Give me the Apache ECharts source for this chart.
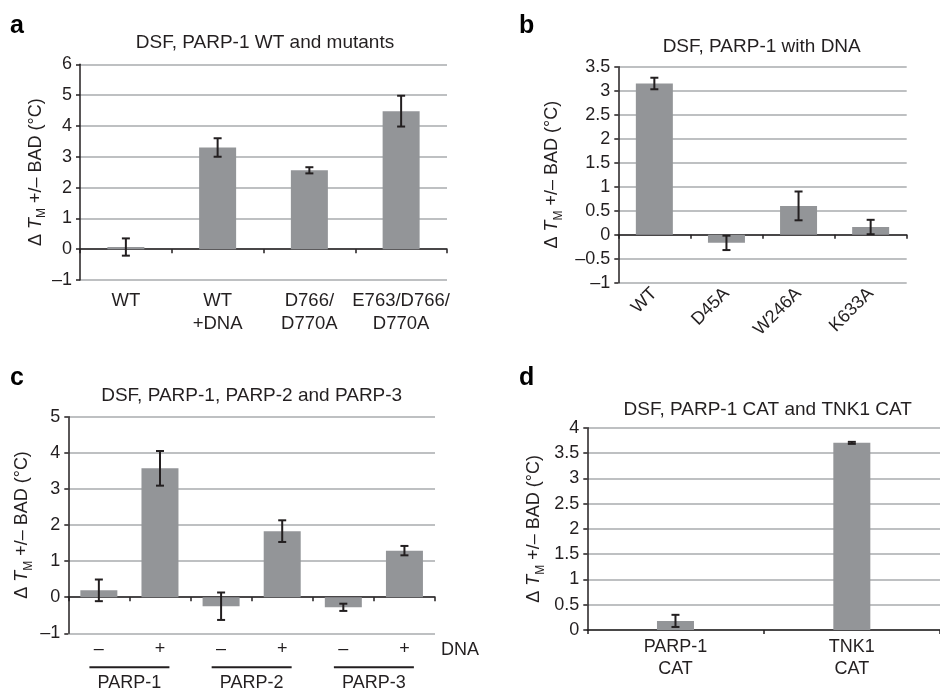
<!DOCTYPE html>
<html>
<head>
<meta charset="utf-8">
<script src="https://cdn.jsdelivr.net/npm/echarts@6/dist/echarts.min.js"></script>
<style>html,body{margin:0;padding:0;background:#fff}#c{width:940px;height:693px}</style>
</head>
<body>
<div id="c"></div>
<script>
// Panel a
const catsA = ['WT', 'WT\n+DNA', 'D766/\nD770A', 'E763/D766/\nD770A'];
const valsA = [0.07, 3.3, 2.56, 4.48];
const errA = [0.28, 0.3, 0.1, 0.5];
// Panel b
const catsB = ['WT', 'D45A', 'W246A', 'K633A'];
const valsB = [3.15, -0.17, 0.6, 0.16];
const errB = [0.12, 0.15, 0.3, 0.15];
// Panel c
const catsC = ['–', '+', '–', '+', '–', '+'];
const groupsC = ['PARP-1', 'PARP-2', 'PARP-3'];
const valsC = [0.19, 3.57, -0.25, 1.83, -0.28, 1.29];
const errC = [0.3, 0.48, 0.38, 0.3, 0.1, 0.13];
// Panel d
const catsD = ['PARP-1\nCAT', 'TNK1\nCAT'];
const valsD = [0.18, 3.7];
const errD = [0.12, 0.02];

const titlesTxt = ['DSF, PARP-1 WT and mutants', 'DSF, PARP-1 with DNA', 'DSF, PARP-1, PARP-2 and PARP-3', 'DSF, PARP-1 CAT and TNK1 CAT'];
const letters = ['a', 'b', 'c', 'd'];

const FONT = '"Liberation Sans", Arial, Helvetica, sans-serif';
const TXT = '#231f20';
const GRIDC = '#a9abae';
const BARC = '#939598';

const chart = echarts.init(document.getElementById('c'), null, {renderer: 'canvas'});

function errItem(params, api) {
  const x = api.value(0), y = api.value(1), e = api.value(2);
  const p1 = api.coord([x, y + e]);
  const p2 = api.coord([x, y - e]);
  const w = 4;
  const style = {stroke: TXT, lineWidth: 2};
  return {type: 'group', children: [
    {type: 'line', shape: {x1: p1[0], y1: p1[1], x2: p2[0], y2: p2[1]}, style},
    {type: 'line', shape: {x1: p1[0] - w, y1: p1[1], x2: p1[0] + w, y2: p1[1]}, style},
    {type: 'line', shape: {x1: p2[0] - w, y1: p2[1], x2: p2[0] + w, y2: p2[1]}, style}
  ]};
}

const yName = '{d|Δ }{t|T}{s|M}{d| +/– BAD (°C)}';
const yNameRich = {
  d: {fontSize: 18, fontFamily: FONT, color: TXT, lineHeight: 24},
  t: {fontSize: 18, fontFamily: FONT, color: TXT, fontStyle: 'italic', lineHeight: 24},
  s: {fontSize: 12, fontFamily: FONT, color: TXT, lineHeight: 13, verticalAlign: 'bottom'}
};

function yAxis(gridIndex, min, max, interval, gap) {
  return {
    type: 'value', gridIndex, min, max, interval,
    name: yName, nameLocation: 'middle', nameGap: gap, nameRotate: 90,
    nameTextStyle: {rich: yNameRich},
    axisLine: {show: true, lineStyle: {color: TXT, width: 1.5}},
    axisTick: {show: true, length: 4, lineStyle: {color: TXT, width: 1.5}},
    axisLabel: {fontSize: 18, fontFamily: FONT, color: TXT, margin: 8,
      formatter: v => String(v).replace('-', '–')},
    splitLine: {show: true, lineStyle: {color: GRIDC, width: 1.5}}
  };
}

function lineAxis(gridIndex, data) {
  return {
    type: 'category', gridIndex, data, position: 'bottom',
    axisLine: {show: true, onZero: true, lineStyle: {color: TXT, width: 1.5}},
    axisTick: {show: true, length: 4, lineStyle: {color: TXT, width: 1.5}},
    axisLabel: {show: false}, splitLine: {show: false}
  };
}
function labelAxis(gridIndex, data, extra) {
  return Object.assign({
    type: 'category', gridIndex, data, position: 'bottom',
    axisLine: {show: false, onZero: false},
    axisTick: {show: false},
    axisLabel: {fontSize: 18.5, fontFamily: FONT, color: TXT, margin: 9, lineHeight: 23, interval: 0},
    splitLine: {show: false}
  }, extra || {});
}

const grids = [
  {left: 80, top: 64.3, width: 367, height: 215.7},
  {left: 618.3, top: 66.7, width: 288.4, height: 216},
  {left: 68.3, top: 416.7, width: 366.7, height: 216.6},
  {left: 587.3, top: 427.7, width: 362.7, height: 202.3}
];

const xAxes = [
  lineAxis(0, catsA),
  labelAxis(0, catsA),
  lineAxis(1, catsB),
  labelAxis(1, catsB, {axisLabel: {fontSize: 18, fontFamily: FONT, color: TXT, margin: 8, rotate: 45, interval: 0}}),
  lineAxis(2, catsC),
  labelAxis(2, catsC, {
    name: 'DNA', nameLocation: 'end', nameGap: 6,
    nameTextStyle: {fontSize: 18, fontFamily: FONT, color: TXT, verticalAlign: 'top', padding: [8, 0, 0, 0]},
    axisLabel: {fontSize: 18, fontFamily: FONT, color: TXT, margin: 7, interval: 0}
  }),
  labelAxis(2, groupsC, {
    axisLabel: {
      interval: 0, margin: 33,
      formatter: v => '{l|}\n{t|' + v + '}',
      rich: {
        l: {width: 80, height: 2, lineHeight: 2, backgroundColor: TXT},
        t: {fontSize: 18, fontFamily: FONT, color: TXT, lineHeight: 30}
      }
    }
  }),
  {
    type: 'category', gridIndex: 3, data: catsD, position: 'bottom',
    axisLine: {show: true, onZero: true, lineStyle: {color: TXT, width: 1.5}},
    axisTick: {show: true, length: 4, lineStyle: {color: TXT, width: 1.5}},
    axisLabel: {fontSize: 18, fontFamily: FONT, color: TXT, margin: 6, lineHeight: 22, interval: 0},
    splitLine: {show: false}
  }
];

const yAxes = [
  yAxis(0, -1, 6, 1, 31),
  yAxis(1, -1, 3.5, 0.5, 54),
  yAxis(2, -1, 5, 1, 34),
  yAxis(3, 0, 4, 0.5, 41)
];

function barSeries(xi, yi, vals) {
  return {type: 'bar', xAxisIndex: xi, yAxisIndex: yi, data: vals, barWidth: 37,
    itemStyle: {color: BARC}, silent: true, animation: false, z: 2};
}
function errSeries(xi, yi, vals, errs) {
  return {type: 'custom', xAxisIndex: xi, yAxisIndex: yi, renderItem: errItem,
    data: vals.map((v, i) => [i, v, errs[i]]), silent: true, animation: false, z: 5};
}

const titleCenters = [[265, 33], [761.7, 37.5], [251.7, 386.5], [767.7, 400]];
const letterPos = [[10, 14], [519, 14], [10, 366], [519, 366]];

const titles = [];
titlesTxt.forEach((t, i) => titles.push({
  text: t, left: titleCenters[i][0], top: titleCenters[i][1], textAlign: 'center', padding: 0,
  textStyle: {fontSize: 19, fontWeight: 'normal', fontFamily: FONT, color: TXT}
}));
letters.forEach((t, i) => titles.push({
  text: t, left: letterPos[i][0], top: letterPos[i][1], padding: 0,
  textStyle: {fontSize: 25, fontWeight: 'bold', fontFamily: FONT, color: '#000'}
}));

chart.setOption({
  animation: false,
  title: titles,
  grid: grids,
  xAxis: xAxes,
  yAxis: yAxes,
  series: [
    barSeries(0, 0, valsA), errSeries(0, 0, valsA, errA),
    barSeries(2, 1, valsB), errSeries(2, 1, valsB, errB),
    barSeries(4, 2, valsC), errSeries(4, 2, valsC, errC),
    barSeries(7, 3, valsD), errSeries(7, 3, valsD, errD)
  ]
});
</script>
</body>
</html>
